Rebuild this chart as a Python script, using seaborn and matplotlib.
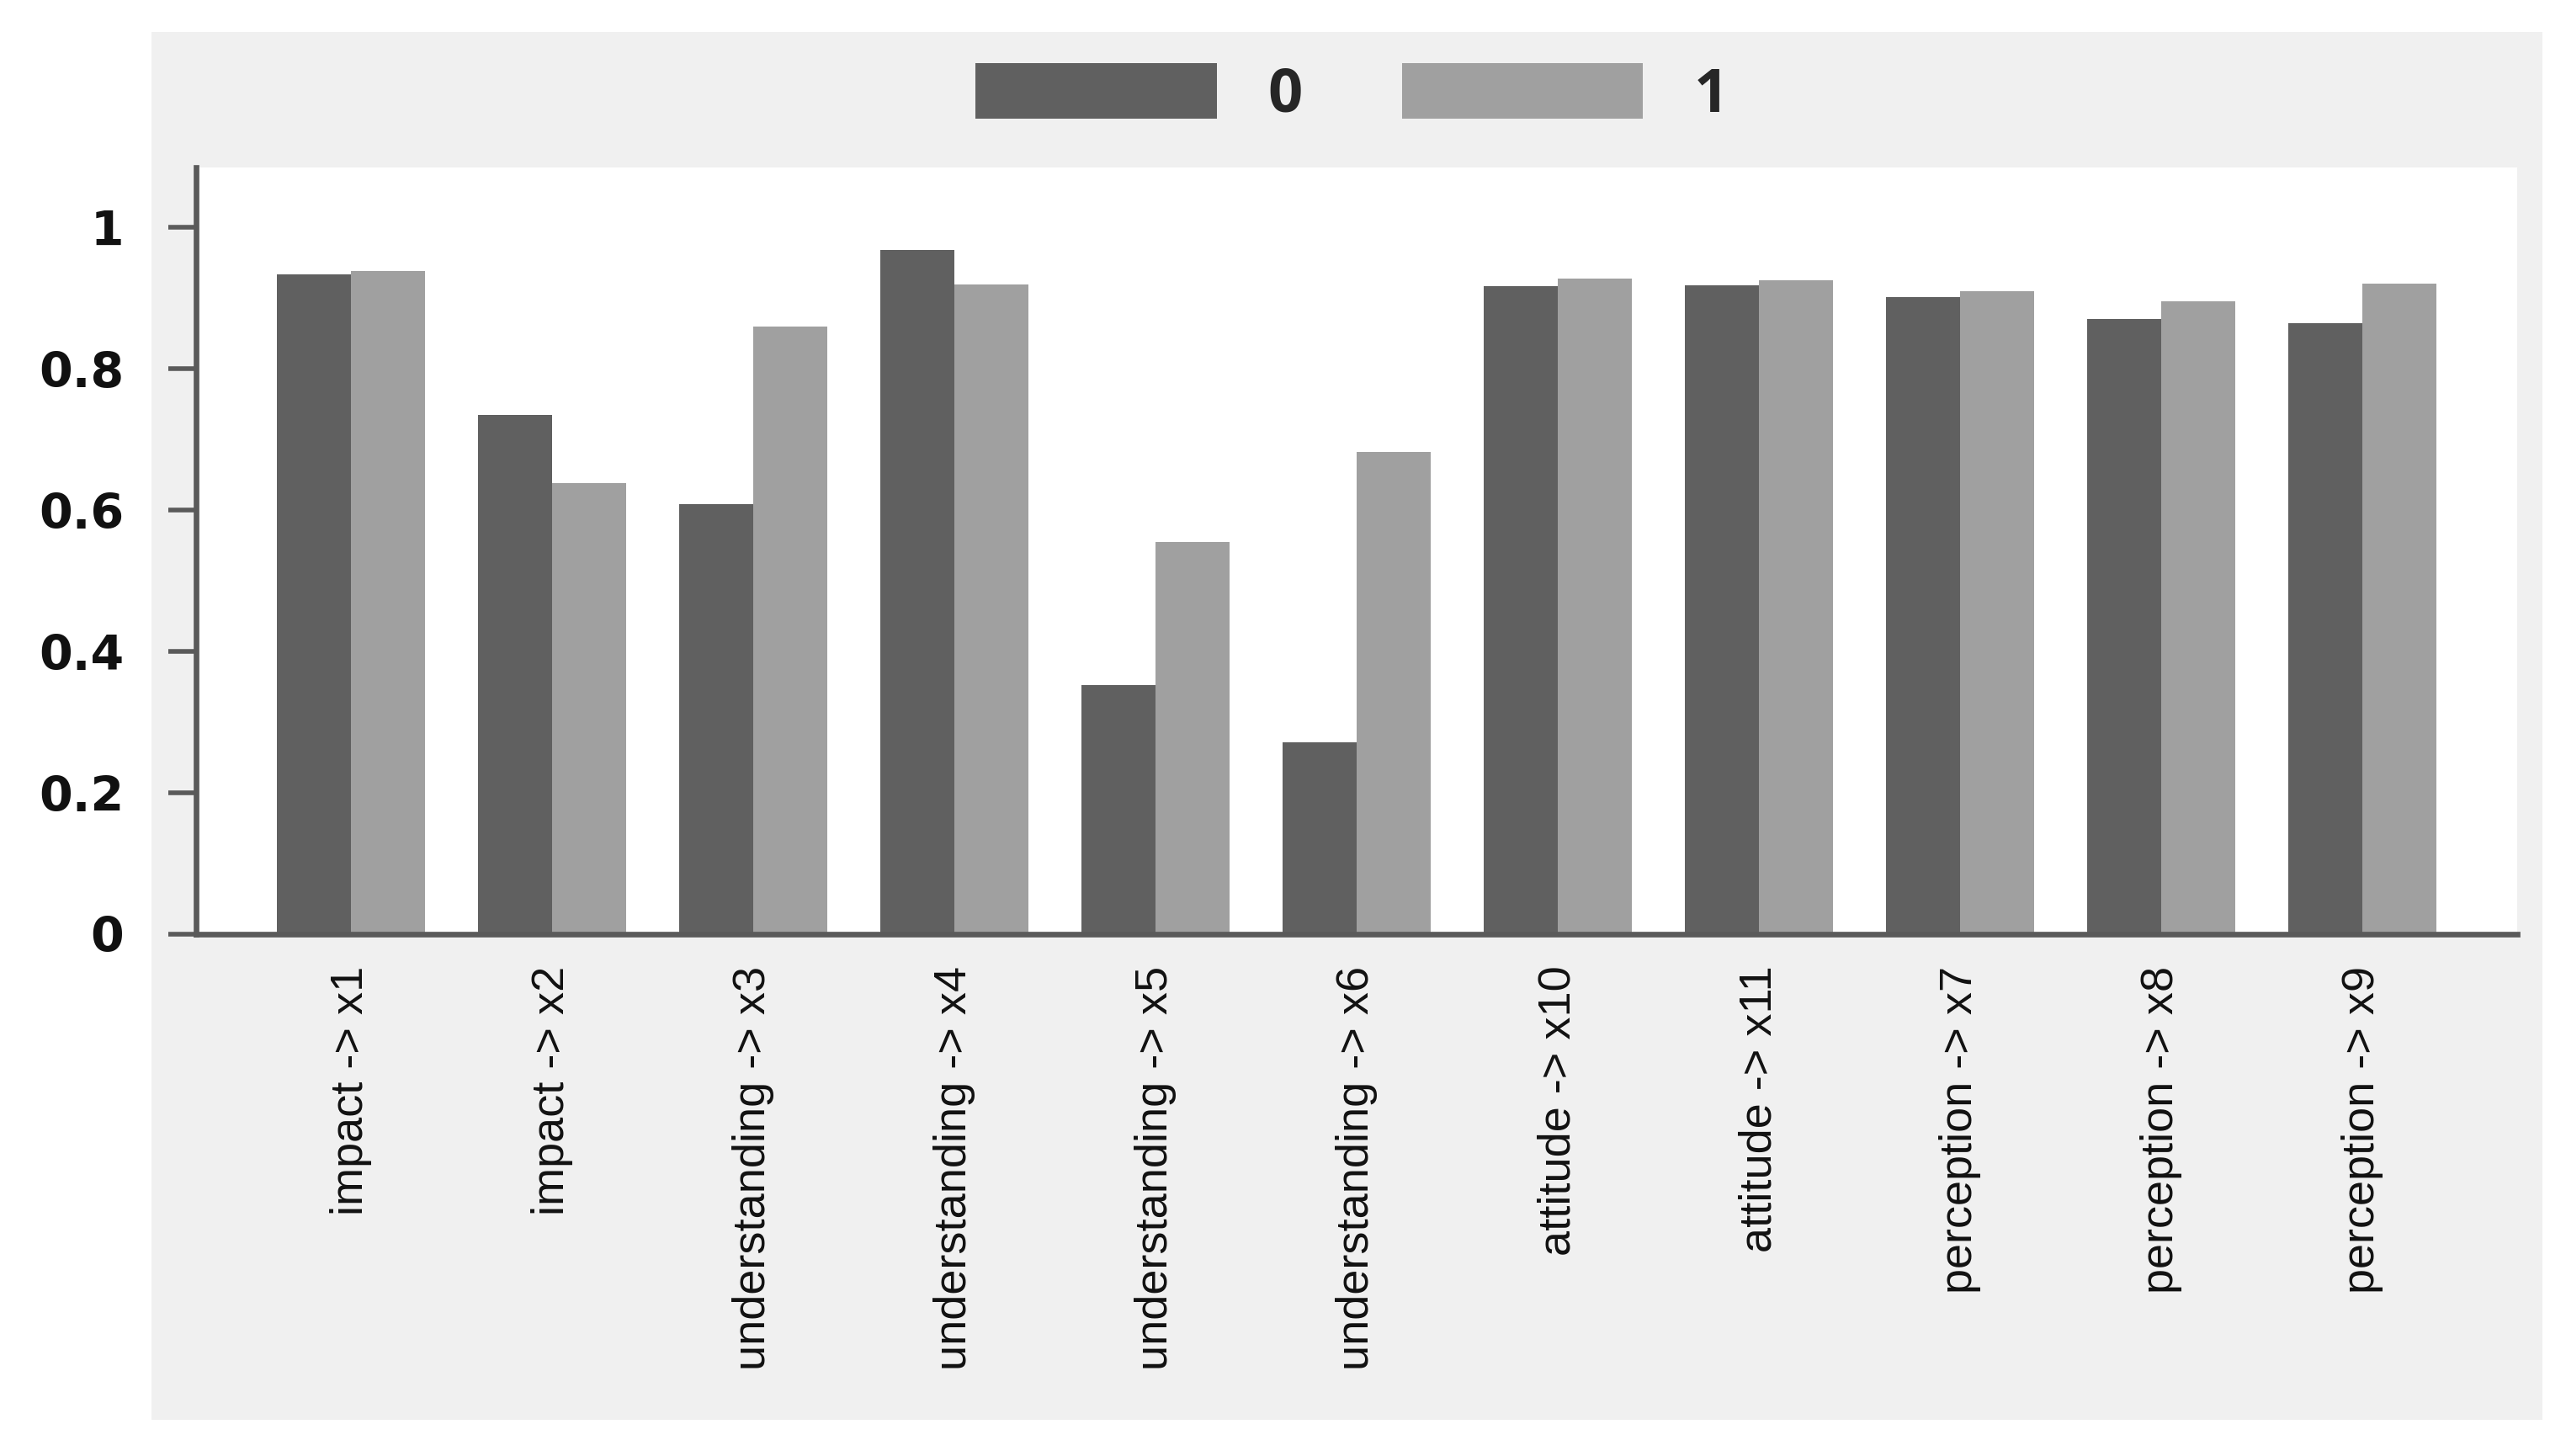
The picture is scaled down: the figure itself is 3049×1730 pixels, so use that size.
import matplotlib
matplotlib.use('Agg')
import matplotlib.pyplot as plt
import seaborn as sns
import pandas as pd
from matplotlib.patches import Rectangle

categories = ['impact -> x1', 'impact -> x2', 'understanding -> x3', 'understanding -> x4',
              'understanding -> x5', 'understanding -> x6', 'attitude -> x10', 'attitude -> x11',
              'perception -> x7', 'perception -> x8', 'perception -> x9']
group_labels = ['0', '1']
values_0 = [0.934, 0.735, 0.609, 0.968, 0.352, 0.271, 0.917, 0.918, 0.902, 0.871, 0.865]
values_1 = [0.939, 0.638, 0.860, 0.919, 0.555, 0.682, 0.928, 0.925, 0.910, 0.896, 0.920]
y_ticks = [0, 0.2, 0.4, 0.6, 0.8, 1]
y_tick_labels = ['0', '0.2', '0.4', '0.6', '0.8', '1']

df = pd.DataFrame({
    'category': categories * 2,
    'group': [group_labels[0]] * len(categories) + [group_labels[1]] * len(categories),
    'value': values_0 + values_1,
})

sns.set_style('white')
plt.rcParams['font.family'] = ['DejaVu Sans']

fig = plt.figure(figsize=(15.245, 8.65), dpi=200)
fig.patch.set_facecolor('white')
fig.patches.append(Rectangle((0.059, 0.0249), 0.9318, 0.953, transform=fig.transFigure,
                             facecolor='#f0f0f0', edgecolor='none', zorder=-10))

ax = fig.add_axes([0.0764, 0.3584, 0.9046, 0.5266])
ax.set_facecolor('white')

sns.barplot(data=df, x='category', y='value', hue='group', order=categories,
            hue_order=group_labels, palette={'0': '#606060', '1': '#a0a0a0'},
            width=0.74, gap=0, saturation=1, linewidth=0, edgecolor='none', ax=ax)

ax.set_xlim(-0.77, len(categories) - 1 + 0.77)
ax.set_ylim(0, 1.085)
ax.set_xlabel('')
ax.set_ylabel('')

for s in ['top', 'right']:
    ax.spines[s].set_visible(False)
for s in ['left', 'bottom']:
    ax.spines[s].set_color('#5a5a5a')
    ax.spines[s].set_linewidth(2.4)

ax.set_yticks(y_ticks)
ax.set_yticklabels(y_tick_labels, fontsize=20.5, color='#111111', family='DejaVu Sans',
                   fontweight='bold')
ax.tick_params(axis='y', length=11.9, width=2.0, color='#5a5a5a', pad=19, direction='out', left=True)
ax.set_xticks(range(len(categories)))
ax.set_xticklabels(categories, rotation=90, fontsize=19.5, color='#111111', family='Liberation Sans')
ax.tick_params(axis='x', length=0, pad=13.5)

leg = ax.get_legend()
handles = leg.legend_handles
labels = [t.get_text() for t in leg.get_texts()]
leg.remove()
fig.legend(handles, labels, loc='center', bbox_to_anchor=(0.527, 0.935), ncol=2,
           frameon=False, prop={'family': 'Open Sans', 'size': 26, 'weight': 'bold'},
           handlelength=3.97, handleheight=1.03, handletextpad=0.84, columnspacing=1.63,
           borderpad=0, borderaxespad=0)

fig.savefig('out.png', dpi=200, facecolor='white')
